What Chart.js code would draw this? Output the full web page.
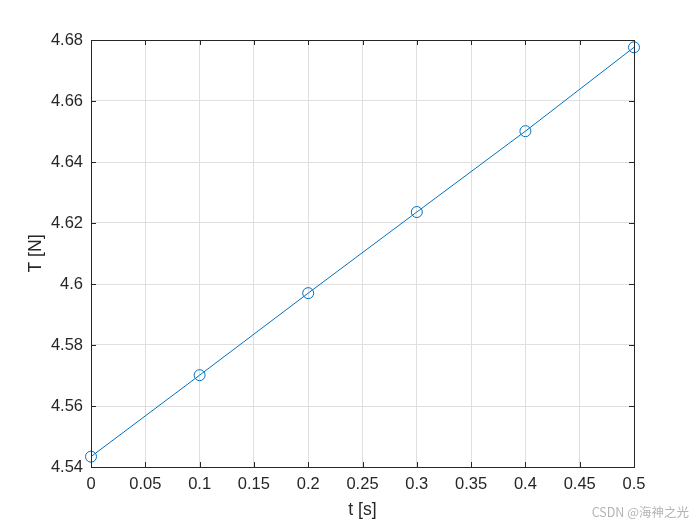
<!DOCTYPE html>
<html>
<head>
<meta charset="utf-8">
<script src="https://cdn.jsdelivr.net/npm/chart.js@4"></script>
<style>
    body { margin: 0; background: #fff; }
</style>
</head>
<body>
<canvas id="myChart" width="700" height="525"></canvas>
<script>
const timeValues = [0, 0.1, 0.2, 0.3, 0.4, 0.5];
const tensionValues = [4.5434, 4.5701, 4.5970, 4.6236, 4.6501, 4.6776];
const xRange = [0, 0.5, 0.05];
const yRange = [4.54, 4.68, 0.02];

const axisColor = "#262626";
const fontFamily = "'Liberation Sans', Arial, sans-serif";

// kotak sumbu + tick ke dalam di keempat sisi (gaya MATLAB)
const boxPlugin = {
    id: "boxPlugin",
    afterDraw(chart) {
        const { ctx, chartArea: a, scales } = chart;
        ctx.save();
        ctx.strokeStyle = axisColor;
        ctx.lineWidth = 1;
        const len = 5;
        ctx.beginPath();
        scales.x.ticks.forEach((t) => {
            const px = Math.round(scales.x.getPixelForValue(t.value)) + 0.5;
            ctx.moveTo(px, a.bottom);
            ctx.lineTo(px, a.bottom - len);
            ctx.moveTo(px, a.top);
            ctx.lineTo(px, a.top + len);
        });
        scales.y.ticks.forEach((t) => {
            const py = Math.round(scales.y.getPixelForValue(t.value)) + 0.5;
            ctx.moveTo(a.left, py);
            ctx.lineTo(a.left + len, py);
            ctx.moveTo(a.right, py);
            ctx.lineTo(a.right - len, py);
        });
        ctx.stroke();
        ctx.strokeRect(Math.round(a.left) + 0.5, Math.round(a.top) + 0.5,
            Math.round(a.right - a.left), Math.round(a.bottom - a.top));

        // watermark
        ctx.fillStyle = "#b4b4b4";
        ctx.font = "12.5px 'Noto Sans CJK SC', sans-serif";
        ctx.textAlign = "right";
        ctx.textBaseline = "middle";
        ctx.fillText("CSDN @海神之光", 689, 512);
        ctx.restore();
    },
};

const ctx = document.getElementById("myChart").getContext("2d");
const myChart = new Chart(ctx, {
    type: "line",
    data: {
        datasets: [{
            data: timeValues.map((t, i) => ({ x: t, y: tensionValues[i] })),
            borderColor: "#0072BD",
            borderWidth: 1,
            pointStyle: "circle",
            pointRadius: 5.5,
            pointBorderWidth: 1,
            pointBorderColor: "#0072BD",
            pointBackgroundColor: "rgba(0,0,0,0)",
            tension: 0,
            fill: false,
            clip: false,
        }],
    },
    options: {
        responsive: false,
        animation: false,
        layout: { padding: { left: 0, top: 40, right: 66, bottom: 0 } },
        plugins: {
            legend: { display: false },
            tooltip: { enabled: false },
        },
        scales: {
            x: {
                type: "linear",
                min: xRange[0],
                max: xRange[1],
                afterFit: (scale) => { scale.height = 58; },
                ticks: {
                    stepSize: xRange[2],
                    color: axisColor,
                    padding: 8,
                    font: { family: fontFamily, size: 16.5 },
                    callback: (v) => +v.toFixed(2),
                },
                grid: { color: "#dfdfdf", drawTicks: false },
                border: { display: false },
                title: {
                    display: true,
                    text: "t [s]",
                    color: axisColor,
                    padding: { top: 0, bottom: 4 },
                    font: { family: fontFamily, size: 17.6 },
                },
            },
            y: {
                type: "linear",
                min: yRange[0],
                max: yRange[1],
                afterFit: (scale) => { scale.width = 91; },
                ticks: {
                    stepSize: yRange[2],
                    color: axisColor,
                    padding: 8,
                    font: { family: fontFamily, size: 16.5 },
                    callback: (v) => +v.toFixed(2),
                },
                grid: { color: "#dfdfdf", drawTicks: false },
                border: { display: false },
                title: {
                    display: true,
                    text: "T [N]",
                    color: axisColor,
                    padding: { top: 26, bottom: 0 },
                    font: { family: fontFamily, size: 17.6 },
                },
            },
        },
    },
    plugins: [boxPlugin],
});
</script>
</body>
</html>
